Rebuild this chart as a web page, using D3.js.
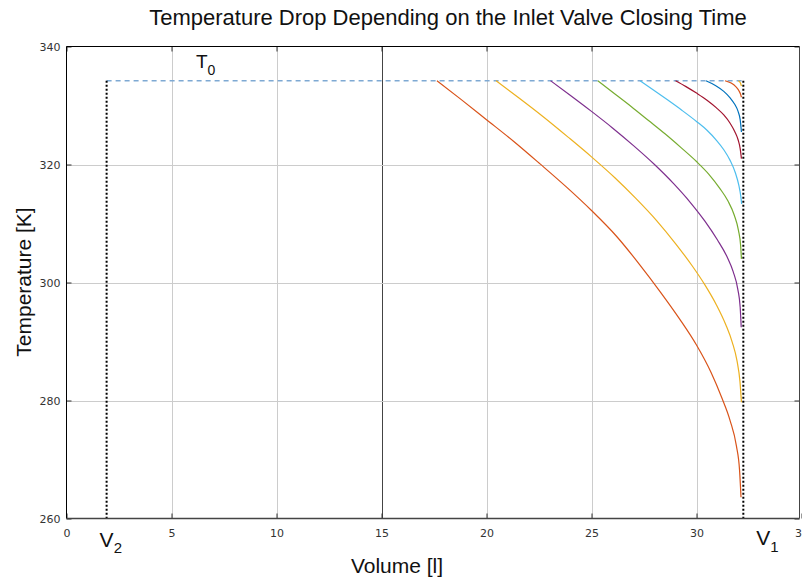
<!DOCTYPE html>
<html><head><meta charset="utf-8">
<script src="https://cdn.jsdelivr.net/npm/d3@7/dist/d3.min.js"></script>
<style>body{margin:0;background:#fff}svg{display:block}</style>
</head><body><svg id="chart" width="802" height="579"></svg>
<script>
// ---------------- data ----------------
const titleText = "Temperature Drop Depending on the Inlet Valve Closing Time";
const xLabel = "Volume [l]";
const yLabel = "Temperature [K]";
const volumeTicks = [0, 5, 10, 15, 20, 25, 30, 35];
const temperatureTicks = [260, 280, 300, 320, 340];
const T0 = 334.2;   // inlet temperature
const V1 = 32.23;   // bottom dead centre volume
const V2 = 1.91;    // top dead centre volume

// temperature curves [volume, temperature] for each valve closing time
const curve1 = [[17.64,334.2],[18.8,331.0],[20,327.6],[21.3,323.9],[22.55,320.1],[23.8,316.2],[25.0,312.2],[26.2,307.8],[27.3,303.0],[28.3,298.3],[29.2,293.8],[30.0,289.4],[30.7,284.7],[31.2,280.5],[31.6,276.6],[31.9,272.3],[32.05,268.2],[32.12,263.6]];
const curve2 = [[20.45,334.2],[21.5,331.4],[22.7,328.1],[23.9,324.6],[25.0,321.3],[26.1,317.8],[27.1,314.3],[28.1,310.5],[29.0,306.6],[29.8,302.8],[30.4,299.6],[30.95,296.2],[31.4,292.8],[31.7,289.9],[31.93,286.7],[32.07,283.2],[32.14,279.7]];
const curve3 = [[23.05,334.2],[24.0,331.7],[25.0,329.0],[26.0,326.2],[27.0,323.2],[28.0,320.0],[28.9,316.8],[29.7,313.6],[30.4,310.4],[31.0,307.2],[31.45,304.4],[31.75,301.8],[31.97,298.8],[32.08,295.8],[32.13,292.4]];
const curve4 = [[25.3,334.2],[26.1,332.0],[26.9,329.8],[27.7,327.5],[28.5,325.2],[29.25,322.9],[30.0,320.5],[30.6,318.3],[31.1,316.0],[31.5,313.8],[31.8,311.4],[32.0,308.8],[32.1,306.3],[32.14,304.0]];
const curve5 = [[27.31,334.2],[28.0,332.5],[28.6,331.0],[29.3,329.2],[30.0,327.3],[30.5,325.8],[30.95,324.1],[31.3,322.5],[31.6,320.7],[31.85,318.6],[32.02,316.4],[32.11,314.6],[32.15,313.3]];
const curve6 = [[29.0,334.2],[29.5,333.2],[30.0,332.1],[30.5,330.9],[30.95,329.6],[31.3,328.4],[31.6,327.0],[31.82,325.6],[31.98,324.2],[32.08,322.7],[32.14,321.0]];
const curve7 = [[30.45,334.2],[30.9,333.4],[31.3,332.4],[31.6,331.3],[31.82,330.2],[31.98,329.0],[32.08,327.6],[32.14,325.5]];
const curve8 = [[31.36,334.2],[31.65,333.8],[31.87,333.2],[32.02,332.5],[32.1,331.9],[32.14,331.4]];
const curve9 = [[31.99,334.2],[32.08,333.9],[32.14,333.3]];
const curves = [curve1, curve2, curve3, curve4, curve5, curve6, curve7, curve8, curve9];
const seriesColors = ["#D95319","#EDB120","#7E2F8E","#77AC30","#4DBEEE","#A2142F","#0072BD","#D95319","#EDB120"];

// ---------------- layout ----------------
const W = 802, H = 579;
const pL = 66.5, pR = 799.5, pT = 46.5, pB = 518.5;
const svg = d3.select("#chart");
svg.append("rect").attr("width", W).attr("height", H).attr("fill", "#fff");

const x = d3.scaleLinear().domain([0, 35]).range([pL, 801.5]);
const y = d3.scaleLinear().domain([260, 340]).range([pB, pT]);

// grid
const grid = svg.append("g");
grid.selectAll("line.gx").data(volumeTicks.filter(v => v > 0 && v < 35)).join("line")
  .attr("x1", d => Math.round(x(d)) + 0.5).attr("x2", d => Math.round(x(d)) + 0.5)
  .attr("y1", pT).attr("y2", pB)
  .attr("stroke", d => d === 15 ? "#444" : "#cccccc").attr("stroke-width", 1);
grid.selectAll("line.gy").data(temperatureTicks.filter(t => t > 260 && t < 340)).join("line")
  .attr("x1", pL).attr("x2", pR)
  .attr("y1", d => Math.round(y(d)) + 0.5).attr("y2", d => Math.round(y(d)) + 0.5)
  .attr("stroke", "#cccccc").attr("stroke-width", 1);

// T0 dashed line
svg.append("line")
  .attr("x1", x(V2)).attr("x2", x(V1)).attr("y1", y(T0)).attr("y2", y(T0))
  .attr("stroke", "#7ea9d3").attr("stroke-width", 1.4).attr("stroke-dasharray", "5,4");

// curves
const line = d3.line().x(d => x(d[0])).y(d => y(d[1])).curve(d3.curveMonotoneX);
svg.append("g").selectAll("path").data(curves).join("path")
  .attr("d", line).attr("fill", "none")
  .attr("stroke", (d, i) => seriesColors[i]).attr("stroke-width", 1.2);

// V1 / V2 dotted lines
svg.append("g").selectAll("line").data([V2, V1]).join("line")
  .attr("x1", d => x(d)).attr("x2", d => x(d)).attr("y1", y(T0)).attr("y2", y(260))
  .attr("stroke", "#000").attr("stroke-width", 2).attr("stroke-dasharray", "2,2");

// axes
const fontTick = "DejaVu Sans, sans-serif";
const xAxis = d3.axisBottom(x).tickValues(volumeTicks).tickSizeInner(-5).tickSizeOuter(0).tickPadding(11);
const gx = svg.append("g").attr("transform", `translate(0,${pB})`).call(xAxis);
gx.select(".domain").remove();
gx.selectAll("text").attr("font-family", fontTick).attr("font-size", 11).attr("fill", "#333");
gx.selectAll("line").attr("stroke", "#333");

const xAxisTop = d3.axisTop(x).tickValues(volumeTicks.filter(v => v < 35)).tickSizeInner(-5).tickSizeOuter(0).tickFormat("");
const gxt = svg.append("g").attr("transform", `translate(0,${pT})`).call(xAxisTop);
gxt.select(".domain").remove();
gxt.selectAll("line").attr("stroke", "#333");

const yAxis = d3.axisLeft(y).tickValues(temperatureTicks).tickSizeInner(-5).tickSizeOuter(0).tickPadding(6);
const gy = svg.append("g").attr("transform", `translate(${pL},0)`).call(yAxis);
gy.select(".domain").remove();
gy.selectAll("text").attr("font-family", fontTick).attr("font-size", 11).attr("fill", "#333");
gy.selectAll("line").attr("stroke", "#333");

const yAxisRight = d3.axisRight(y).tickValues(temperatureTicks).tickSizeInner(-5).tickSizeOuter(0).tickFormat("");
const gyr = svg.append("g").attr("transform", `translate(${pR},0)`).call(yAxisRight);
gyr.select(".domain").remove();
gyr.selectAll("line").attr("stroke", "#333");

// frame
svg.append("line").attr("x1", pL).attr("x2", pL).attr("y1", pT).attr("y2", pB).attr("stroke", "#000");
svg.append("line").attr("x1", pL).attr("x2", pR).attr("y1", pT).attr("y2", pT).attr("stroke", "#000");
svg.append("line").attr("x1", pL).attr("x2", pR).attr("y1", pB).attr("y2", pB).attr("stroke", "#444").attr("stroke-width", 1.5);
svg.append("line").attr("x1", pR).attr("x2", pR).attr("y1", pT).attr("y2", pB).attr("stroke", "#444");

// texts
const fontLabel = "Liberation Sans, Arial, sans-serif";
svg.append("text").attr("x", 448).attr("y", 25).attr("text-anchor", "middle")
  .attr("font-family", fontLabel).attr("font-size", 22).attr("fill", "#111").text(titleText);
svg.append("text").attr("x", 397).attr("y", 573).attr("text-anchor", "middle")
  .attr("font-family", fontLabel).attr("font-size", 21).attr("fill", "#111").text(xLabel);
svg.append("text").attr("transform", "translate(31,282) rotate(-90)").attr("text-anchor", "middle")
  .attr("font-family", fontLabel).attr("font-size", 21).attr("fill", "#111").text(yLabel);

function subLabel(px, py, main, sub, size, subSize, dy) {
  const t = svg.append("text").attr("x", px).attr("y", py)
    .attr("font-family", fontLabel).attr("font-size", size).attr("fill", "#111");
  t.append("tspan").text(main);
  t.append("tspan").attr("font-size", subSize).attr("dy", dy).text(sub);
}
subLabel(196, 68, "T", "0", 19, 14, 7);
subLabel(x(V2) - 7, 547, "V", "2", 21, 15, 6);
subLabel(x(V1) + 13, 545, "V", "1", 21, 15, 7);
</script></body></html>
